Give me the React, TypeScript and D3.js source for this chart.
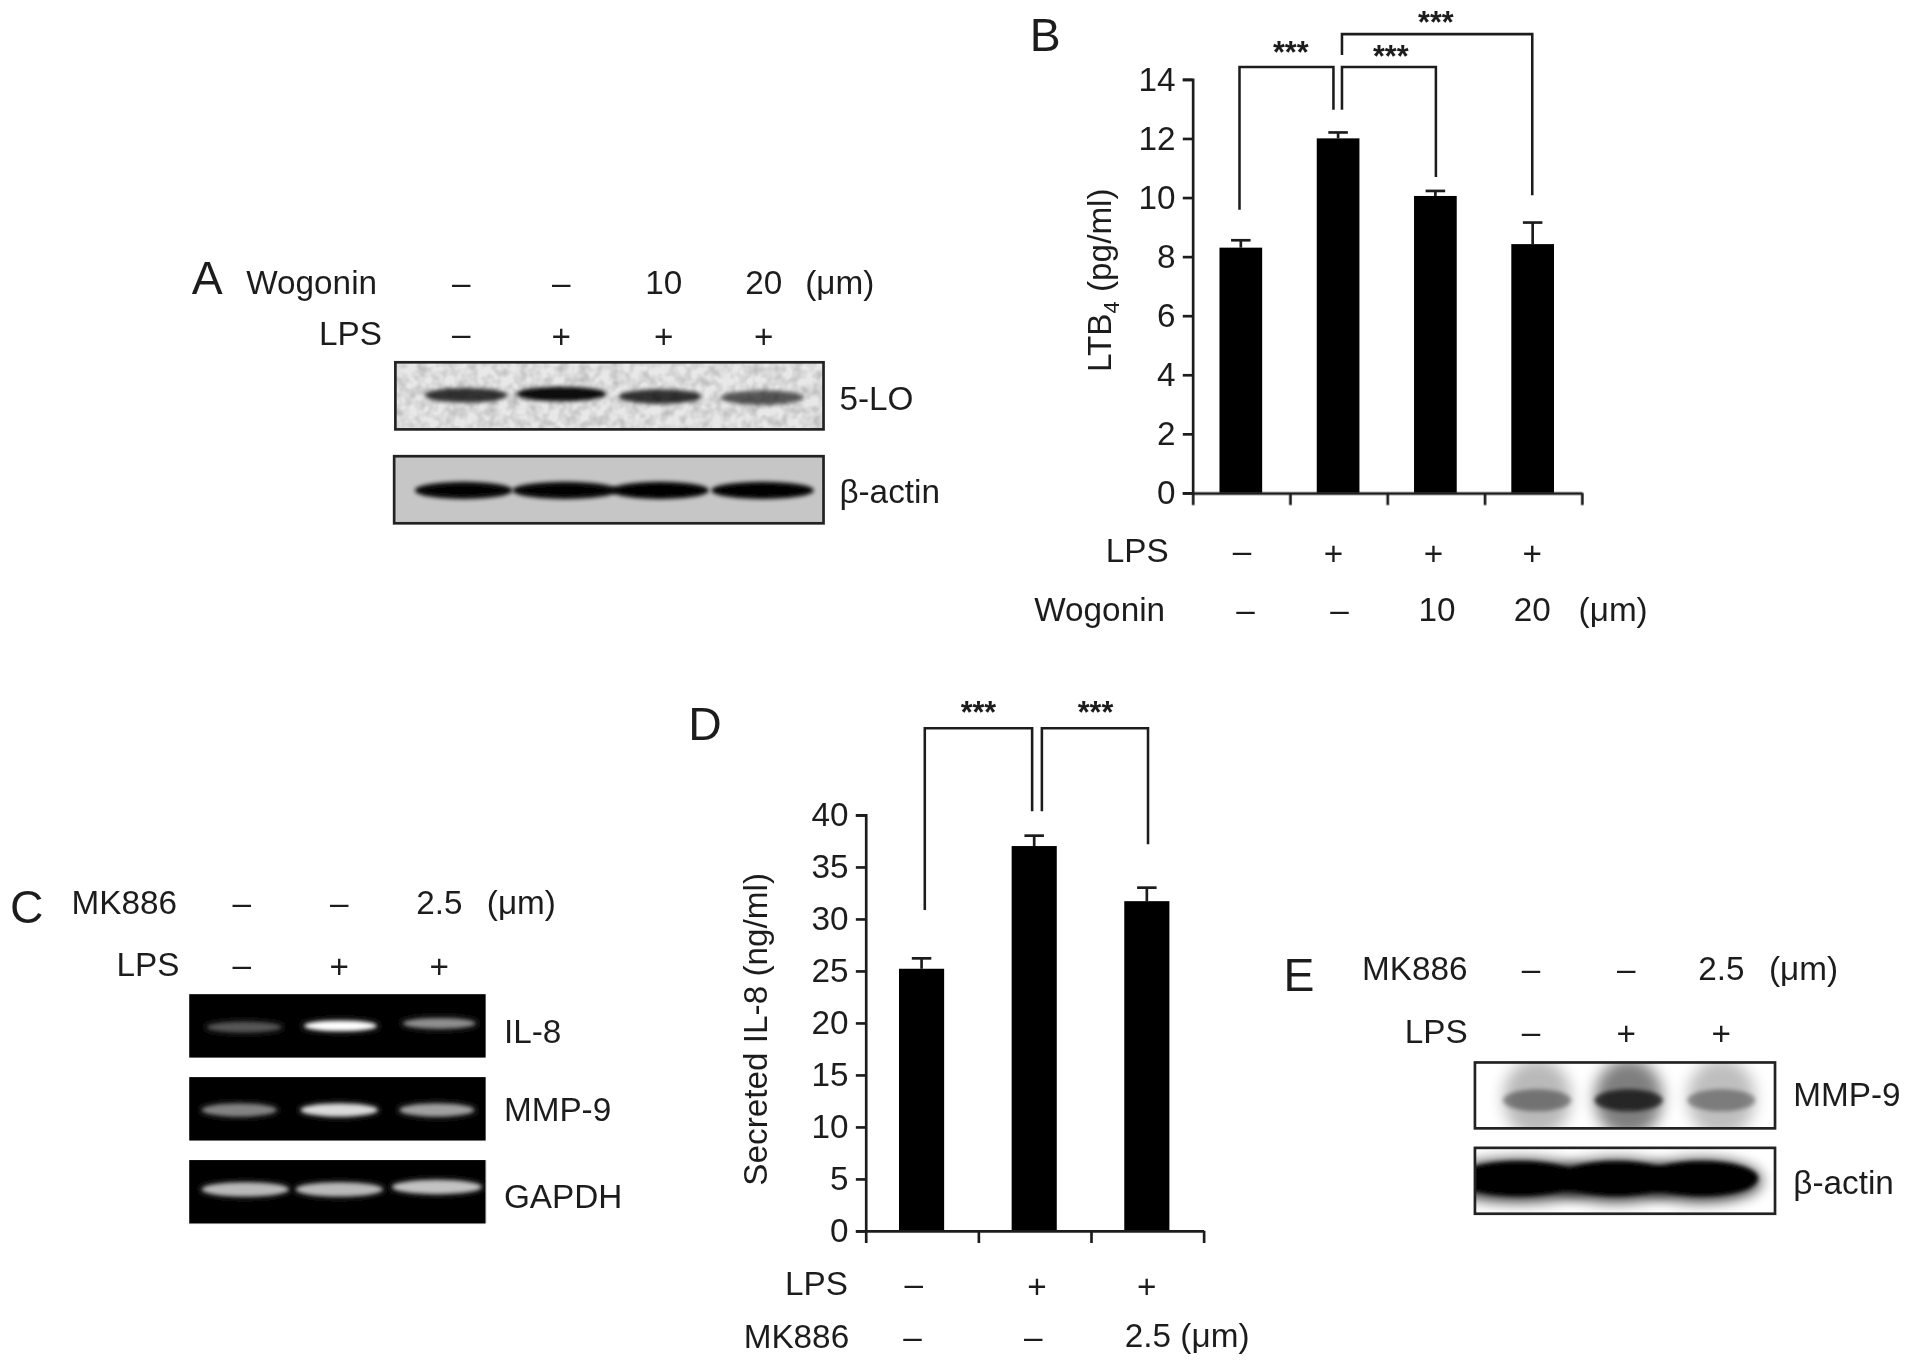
import React, { useEffect, useRef } from "react";
import * as d3 from "d3";

// ---------- data ----------
const ltb4Categories = ["ctrl", "LPS", "LPS+W10", "LPS+W20"];
const ltb4Values = [8.3, 12.0, 10.05, 8.42];
const ltb4Upper = [8.55, 12.2, 10.22, 9.15];
const ltb4Ticks = [0, 2, 4, 6, 8, 10, 12, 14];

const il8Categories = ["ctrl", "LPS", "LPS+MK"];
const il8Values = [25.2, 37.0, 31.7];
const il8Upper = [26.2, 38.0, 33.0];
const il8Ticks = [0, 5, 10, 15, 20, 25, 30, 35, 40];

const wogoninMarks = ["–", "–", "10", "20"];
const lpsFour = ["–", "+", "+", "+"];
const mkMarks = ["–", "–", "2.5"];
const lpsThree = ["–", "+", "+"];

const blotA1Dark = [0.78, 0.95, 0.78, 0.62];
const blotA2Dark = [0.97, 0.97, 0.98, 0.98];
const blotIl8 = [0.32, 1.0, 0.55];
const blotMmp9 = [0.5, 0.85, 0.62];
const blotGapdh = [0.72, 0.72, 0.76];
const blotE1Dark = [0.5, 0.92, 0.46];
const blotE2Dark = [0.98, 0.98, 0.98];

const FONT = "'Liberation Sans', Arial, sans-serif";
const INK = "#1f1f1f";
const FS = 27.3;

function T({ x, y, a = "start", s = FS, c, ...r }: any) {
  return (
    <text x={x} y={y} textAnchor={a} fontSize={s} fontFamily={FONT} fill={INK} {...r}>
      {c}
    </text>
  );
}

function Row({ label, labelX, y, marks, xs, unit }: any) {
  return (
    <g>
      <T x={labelX} y={y} a="end" c={label} />
      {marks.map((m: string, i: number) => (
        <T key={i} x={xs[i]} y={m === "+" ? y + 2 : y} a="middle" c={m} />
      ))}
      {unit ? <T x={unit} y={y} c="(μm)" /> : null}
    </g>
  );
}

function Bars({ cats, vals, upper, ticks, left, right, top, bottom, barW, padding, brackets, stars }: any) {
  const axisY = useRef<SVGGElement>(null);
  const axisX = useRef<SVGGElement>(null);
  const y = d3.scaleLinear().domain([0, ticks[ticks.length - 1]]).range([bottom, top]);
  const band = d3.scaleBand<string>().domain(cats).range([left, right]).paddingInner(padding).paddingOuter(padding / 2);
  const xLin = d3.scaleLinear().domain([0, cats.length]).range([left, right]);

  useEffect(() => {
    const style = (g: any) => {
      g.selectAll(".domain").attr("stroke", INK).attr("stroke-width", 2.2);
      g.selectAll("line").attr("stroke", INK).attr("stroke-width", 2.2);
      g.selectAll("text").attr("font-size", FS).attr("font-family", FONT).attr("fill", INK);
    };
    d3.select(axisY.current!)
      .call(d3.axisLeft(y).tickValues(ticks).tickSize(8).tickPadding(6).tickFormat(d3.format("d")) as any)
      .call(style);
    d3.select(axisX.current!)
      .call(
        d3
          .axisBottom(xLin)
          .tickValues(d3.range(cats.length + 1))
          .tickSize(10)
          .tickSizeOuter(0)
          .tickFormat(() => "") as any
      )
      .call(style);
  }, []);

  return (
    <g>
      {cats.map((c: string, i: number) => {
        const cx = band(c)! + band.bandwidth() / 2 - 0.8;
        return (
          <g key={c}>
            <line x1={cx} x2={cx} y1={y(vals[i])} y2={y(upper[i])} stroke={INK} strokeWidth={2.2} />
            <line x1={cx - 8} x2={cx + 8} y1={y(upper[i])} y2={y(upper[i])} stroke={INK} strokeWidth={2.2} />
            <rect x={cx - barW / 2} width={barW} y={y(vals[i])} height={bottom - y(vals[i])} fill="#000" />
          </g>
        );
      })}
      <g ref={axisY} transform={`translate(${left - 0.5},0)`} />
      <g ref={axisX} transform={`translate(-0.5,${bottom})`} />
      {brackets.map((b: number[], i: number) => (
        <path
          key={i}
          d={d3.line()([
            [b[0], b[1]],
            [b[0], b[2]],
            [b[3], b[2]],
            [b[3], b[4]],
          ])!}
          fill="none"
          stroke={INK}
          strokeWidth={2.1}
        />
      ))}
      {stars.map((s: number[], i: number) => (
        <T key={i} x={s[0]} y={s[1]} a="middle" s={25} fontWeight="bold" c="***" />
      ))}
    </g>
  );
}

function Blot({ x, y, w, h, bg, border, lanes, dark, bandW, bandH, bandY, ink, noise, filter = "bandBlur" }: any) {
  return (
    <g>
      <rect x={x} y={y} width={w} height={h} fill={bg} />
      {noise ? <rect x={x} y={y} width={w} height={h} fill="#000" opacity={noise} filter="url(#grain)" /> : null}
      {dark.map((d: number, i: number) => (
        <ellipse
          key={i}
          cx={lanes[i]}
          cy={Array.isArray(bandY) ? bandY[i] : bandY}
          rx={bandW[i] / 2}
          ry={bandH / 2}
          fill={ink}
          opacity={d}
          filter={`url(#${filter})`}
        />
      ))}
      {border ? <rect x={x} y={y} width={w} height={h} fill="none" stroke="#222" strokeWidth={2.2} /> : null}
    </g>
  );
}

export default function App() {
  return (
    <svg
      width={1913}
      height={1365}
      viewBox="0 0 1568 1119"
      style={{ position: "absolute", left: 0, top: 0, background: "#fff" }}
    >
      <defs>
        <filter id="bandBlur" x="-30%" y="-120%" width="160%" height="340%">
          <feGaussianBlur stdDeviation="1.8" />
        </filter>
        <filter id="smear" x="-40%" y="-60%" width="180%" height="220%">
          <feGaussianBlur stdDeviation="6" />
        </filter>
        <filter id="soft">
          <feGaussianBlur stdDeviation="0.35" />
        </filter>
        <filter id="grain" x="0" y="0" width="100%" height="100%">
          <feTurbulence type="fractalNoise" baseFrequency="0.12" numOctaves="2" seed="4" />
          <feColorMatrix values="0 0 0 0 0  0 0 0 0 0  0 0 0 0 0  1.6 0 0 0 -0.55" />
          <feComposite in2="SourceGraphic" operator="in" />
        </filter>
        <clipPath id="e1"><rect x={1209} y={871} width={246} height={54} /></clipPath>
        <clipPath id="e2"><rect x={1209} y={941} width={246} height={54} /></clipPath>
      </defs>
      <g filter="url(#soft)">
        {/* Panel A */}
        <T x={157} y={241} s={38} c="A" />
        <Row label="Wogonin" labelX={309} y={241} marks={wogoninMarks} xs={[378, 460, 544, 626]} unit={660} />
        <Row label="LPS" labelX={313} y={283} marks={lpsFour} xs={[378, 460, 544, 626]} />
        <Blot x={324} y={297} w={351} h={55} bg="#e8e8e8" noise={0.22} border lanes={[382, 460, 541, 625]} dark={blotA1Dark} bandW={[68, 74, 68, 68]} bandH={12} bandY={[324, 323, 325, 326]} ink="#000" />
        <Blot x={323} y={374} w={352} h={55} bg="#c6c6c6" border lanes={[380, 463, 541, 625]} dark={blotA2Dark} bandW={[80, 86, 80, 84]} bandH={14} bandY={402} ink="#000" />
        <T x={688} y={336} c="5-LO" />
        <T x={688} y={412} c="β-actin" />

        {/* Panel B */}
        <T x={844} y={42} s={38} c="B" />
        <Bars
          cats={ltb4Categories}
          vals={ltb4Values}
          upper={ltb4Upper}
          ticks={ltb4Ticks}
          left={978}
          right={1297}
          top={65}
          bottom={404}
          barW={35}
          padding={0.56}
          brackets={[
            [1016, 172, 55, 1093, 90],
            [1100, 90, 55, 1177, 145],
            [1100, 45, 28, 1256, 160],
          ]}
          stars={[
            [1058, 52],
            [1140, 55],
            [1177, 27],
          ]}
        />
        <text transform="translate(911,305) rotate(-90)" fontSize={FS} fontFamily={FONT} fill={INK}>
          LTB<tspan fontSize={18} dy={6}>4</tspan>
          <tspan dy={-6}> (pg/ml)</tspan>
        </text>
        <Row label="LPS" labelX={958} y={461} marks={lpsFour} xs={[1018, 1093, 1175, 1256]} />
        <Row label="Wogonin" labelX={955} y={509} marks={wogoninMarks} xs={[1021, 1098, 1178, 1256]} unit={1294} />

        {/* Panel C */}
        <T x={8} y={757} s={38} c="C" />
        <Row label="MK886" labelX={145} y={749} marks={mkMarks} xs={[198, 278, 360]} unit={399} />
        <Row label="LPS" labelX={147} y={800} marks={lpsThree} xs={[198, 278, 360]} />
        <Blot x={155} y={815} w={243} h={52} bg="#060606" lanes={[200, 279, 360]} dark={blotIl8} bandW={[62, 60, 60]} bandH={9} bandY={[842, 841, 839]} ink="#fff" />
        <Blot x={155} y={883} w={243} h={52} bg="#060606" lanes={[196, 278, 358]} dark={blotMmp9} bandW={[62, 64, 62]} bandH={11} bandY={910} ink="#fff" />
        <Blot x={155} y={951} w={243} h={52} bg="#060606" lanes={[201, 278, 358]} dark={blotGapdh} bandW={[72, 72, 74]} bandH={12} bandY={[975, 975, 973]} ink="#fff" />
        <T x={413} y={855} c="IL-8" />
        <T x={413} y={919} c="MMP-9" />
        <T x={413} y={990} c="GAPDH" />

        {/* Panel D */}
        <T x={564} y={607} s={38} c="D" />
        <Bars
          cats={il8Categories}
          vals={il8Values}
          upper={il8Upper}
          ticks={il8Ticks}
          left={710}
          right={987}
          top={668}
          bottom={1009}
          barW={37}
          padding={0.6}
          brackets={[
            [758, 746, 597, 846, 665],
            [854, 665, 597, 941, 692],
          ]}
          stars={[
            [802, 593],
            [898, 593],
          ]}
        />
        <T transform="translate(629,972) rotate(-90)" x={0} y={0} c="Secreted IL-8 (ng/ml)" />
        <Row label="LPS" labelX={695} y={1062} marks={lpsThree} xs={[749, 850, 940]} />
        <Row label="MK886" labelX={696} y={1105} marks={["–", "–"]} xs={[748, 847]} />
        <T x={922} y={1104} c="2.5 (μm)" />

        {/* Panel E */}
        <T x={1052} y={812} s={38} c="E" />
        <Row label="MK886" labelX={1203} y={803} marks={mkMarks} xs={[1255, 1333, 1411]} unit={1450} />
        <Row label="LPS" labelX={1203} y={855} marks={lpsThree} xs={[1255, 1333, 1411]} />
        <rect x={1209} y={871} width={246} height={54} fill="#fff" />
        <g clipPath="url(#e1)">
          {blotE1Dark.map((d, i) => (
            <ellipse key={i} cx={[1260, 1335, 1411][i]} cy={900} rx={28} ry={32} fill="#000" opacity={d * 0.55} filter="url(#smear)" />
          ))}
          {blotE1Dark.map((d, i) => (
            <ellipse key={"b" + i} cx={[1260, 1335, 1411][i]} cy={902} rx={28} ry={9} fill="#000" opacity={d * 0.75} filter="url(#bandBlur)" />
          ))}
        </g>
        <rect x={1209} y={871} width={246} height={54} fill="none" stroke="#222" strokeWidth={2.2} />
        <rect x={1209} y={941} width={246} height={54} fill="#fff" />
        <g clipPath="url(#e2)">
          {blotE2Dark.map((d, i) => (
            <ellipse key={i} cx={[1245, 1325, 1395][i]} cy={968} rx={[60, 50, 48][i]} ry={16} fill="#000" opacity={d} filter="url(#smear)" />
          ))}
          {blotE2Dark.map((d, i) => (
            <ellipse key={"c" + i} cx={[1245, 1325, 1395][i]} cy={966} rx={[50, 46, 46][i]} ry={14} fill="#000" opacity={d} filter="url(#bandBlur)" />
          ))}
        </g>
        <rect x={1209} y={941} width={246} height={54} fill="none" stroke="#222" strokeWidth={2.2} />
        <T x={1470} y={907} c="MMP-9" />
        <T x={1470} y={979} c="β-actin" />
      </g>
    </svg>
  );
}
